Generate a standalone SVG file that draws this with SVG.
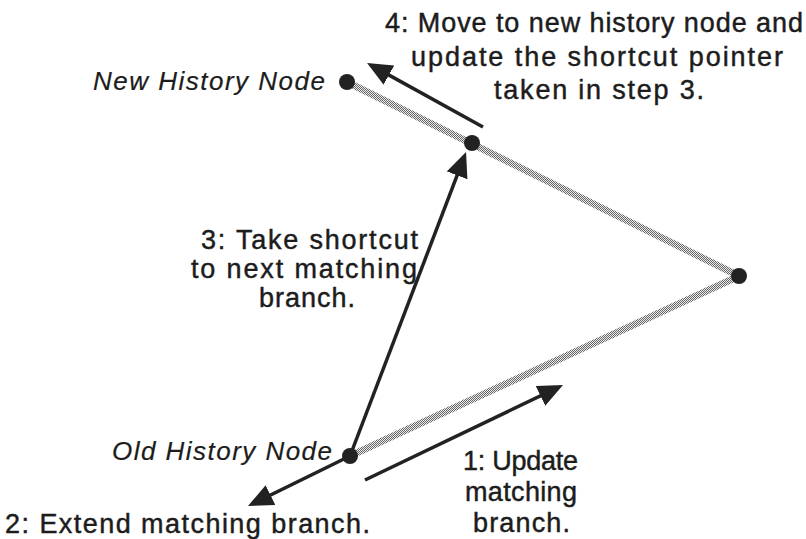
<svg xmlns="http://www.w3.org/2000/svg" width="806" height="539" viewBox="0 0 806 539">
<style>
  text { font-family: "Liberation Sans", Arial, sans-serif; font-size: 27px; fill: #1c1c1c; stroke: #1c1c1c; stroke-width: 0.45; }
  .lbl { font-style: italic; font-size: 26px; stroke-width: 0.2; }
  .dot { fill: #222; }
  .arrow { stroke: #222; stroke-width: 3.5; fill: none; marker-end: url(#head); }
  .trail { stroke: url(#dither); stroke-width: 7; fill: none; }
</style>
<defs>
  <pattern id="dither" width="2" height="2" patternUnits="userSpaceOnUse">
    <rect width="2" height="2" fill="#ececec"/>
    <rect width="1" height="1" fill="#666"/>
    <rect x="1" y="1" width="1" height="1" fill="#666"/>
  </pattern>
  <marker id="head" viewBox="0 0 25 22" markerWidth="25" markerHeight="22" refX="19" refY="11" orient="auto" markerUnits="userSpaceOnUse">
    <path d="M0,0 L25,11 L0,22 Z" fill="#222"/>
  </marker>
</defs>

<g id="connectors">
  <line class="trail" x1="347" y1="82" x2="739" y2="276"/>
  <line class="trail" x1="739" y1="276" x2="350" y2="456"/>
  <line id="arrow-1" class="arrow" x1="365" y1="480" x2="557.6" y2="387.6"/>
  <line id="arrow-2" class="arrow" x1="350" y1="456" x2="253.4" y2="503.4"/>
  <line id="arrow-3" class="arrow" x1="350" y1="456" x2="463.9" y2="157.6"/>
  <line id="arrow-4" class="arrow" x1="483" y1="127" x2="372.3" y2="65.9"/>
</g>

<g id="new-history-node">
  <circle class="dot" cx="347" cy="82" r="8"/>
  <text class="lbl" x="93" y="90" textLength="232" lengthAdjust="spacing">New History Node</text>
</g>
<g id="middle-node">
  <circle class="dot" cx="472" cy="143" r="8"/>
</g>
<g id="right-node">
  <circle class="dot" cx="739" cy="276" r="8"/>
</g>
<g id="old-history-node">
  <circle class="dot" cx="350" cy="456" r="8"/>
  <text class="lbl" x="112" y="460" textLength="220" lengthAdjust="spacing">Old History Node</text>
</g>

<g id="label-step-4">
  <text x="385" y="32" textLength="418" lengthAdjust="spacing">4: Move to new history node and</text>
  <text x="411" y="66" textLength="372" lengthAdjust="spacing">update the shortcut pointer</text>
  <text x="494" y="99" textLength="210" lengthAdjust="spacing">taken in step 3.</text>
</g>
<g id="label-step-3">
  <text x="201" y="249" textLength="217" lengthAdjust="spacing">3: Take shortcut</text>
  <text x="191" y="278" textLength="226" lengthAdjust="spacing">to next matching</text>
  <text x="259" y="307" textLength="96" lengthAdjust="spacing">branch.</text>
</g>
<g id="label-step-1">
  <text x="463" y="470" textLength="115" lengthAdjust="spacing">1: Update</text>
  <text x="465" y="501" textLength="112" lengthAdjust="spacing">matching</text>
  <text x="473" y="532" textLength="97" lengthAdjust="spacing">branch.</text>
</g>
<g id="label-step-2">
  <text x="5" y="533" textLength="365" lengthAdjust="spacing">2: Extend matching branch.</text>
</g>
</svg>
